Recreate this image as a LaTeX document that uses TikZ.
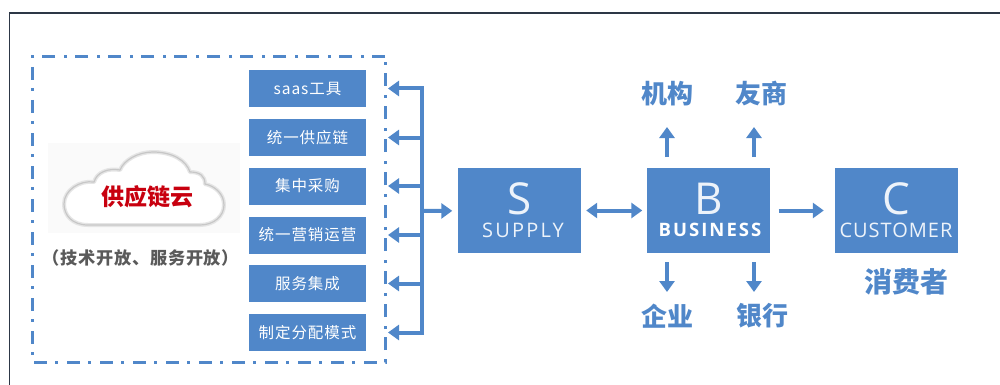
\documentclass[tikz,border=0pt]{standalone}
\usepackage{fontspec}
\setmainfont{Noto Sans CJK SC}
\newfontfamily\latinfont{Open Sans}
\usetikzlibrary{arrows.meta}
\definecolor{boxblue}{RGB}{80,135,201}
\definecolor{framedark}{RGB}{45,55,70}
\definecolor{cloudred}{RGB}{200,0,15}
\definecolor{notegray}{RGB}{90,90,90}
\tikzset{
  toolbox/.style={fill=boxblue, text=white, minimum width=117, minimum height=37, inner sep=0, font=\fontsize{15.5}{17}\selectfont\addfontfeature{LetterSpace=6}},
  rolebox/.style={fill=boxblue, minimum width=123, minimum height=85, inner sep=0},
  rolebig/.style={text=white!90!boxblue, inner sep=0, font=\latinfont\fontsize{44}{46}\selectfont},
  rolesmall/.style={text=white!90!boxblue, inner sep=0, font=\latinfont\fontsize{20}{22}\selectfont\addfontfeature{LetterSpace=5}},
  partner/.style={text=boxblue, inner sep=0, font=\fontsize{26}{28}\selectfont\bfseries},
  flow/.style={draw=boxblue, line width=4, -{Triangle[length=11,width=15]}},
  biflow/.style={draw=boxblue, line width=4, {Triangle[length=11,width=15]}-{Triangle[length=11,width=15]}}
}
\begin{document}
\begin{tikzpicture}[x=1pt,y=-1pt]
\useasboundingbox (0,0) rectangle (1000,385);
% outer frame
\draw[framedark, line width=1.5] (9.5,385) -- (9.5,13) -- (1000,13);
% dash-dot group
\draw[boxblue, line width=3, dash pattern=on 13 off 8 on 3 off 9] (385,57) -- (32,57) -- (32,362) -- (385,362) -- cycle;
% cloud
\fill[black!2] (48,143) rectangle (240,233);
\path[fill=white, draw=black!10, line width=4, line join=round] (88,225) .. controls (72,225) and (64,215) .. (64,204) .. controls (64,190) and (80,180) .. (94,182) .. controls (97,172) and (108,168) .. (120,170) .. controls (124,160) and (138,152) .. (153,152) .. controls (172,152) and (186,160) .. (190,172) .. controls (200,172) and (205,176) .. (205,184) .. controls (215,186) and (224,194) .. (224,205) .. controls (224,216) and (214,225) .. (200,225) -- cycle;
\draw[black!22, line width=1.2] (88,225) .. controls (72,225) and (64,215) .. (64,204) .. controls (64,190) and (80,180) .. (94,182) .. controls (97,172) and (108,168) .. (120,170) .. controls (124,160) and (138,152) .. (153,152) .. controls (172,152) and (186,160) .. (190,172) .. controls (200,172) and (205,176) .. (205,184) .. controls (215,186) and (224,194) .. (224,205) .. controls (224,216) and (214,225) .. (200,225) -- cycle;
\node[text=cloudred, inner sep=0, font=\fontsize{23}{25}\selectfont\bfseries] (cloudlabel) at (147,197){供应链云};
\node[text=notegray, inner sep=0, font=\fontsize{17.2}{19}\selectfont\bfseries\addfontfeature{LetterSpace=4}] (opennote) at (141,258){（技术开放、服务开放）};
% tool boxes
\node[toolbox] (tool0) at (307.5,88.5){saas工具};
\node[toolbox] (tool1) at (307.5,137.5){统一供应链};
\node[toolbox] (tool2) at (307.5,186){集中采购};
\node[toolbox] (tool3) at (307.5,235){统一营销运营};
\node[toolbox] (tool4) at (307.5,283.5){服务集成};
\node[toolbox] (tool5) at (307.5,332.5){制定分配模式};
% trunk
\coordinate (trunktop) at (422,88.5);
\coordinate (trunkbot) at (422,332.5);
\coordinate (trunkmid) at (422,211);
\draw[boxblue, line width=4] ([yshift=-2]trunktop) -- ([yshift=2]trunkbot);
\coordinate (tip0) at (388,88.5);
\coordinate (tip1) at (388,137.5);
\coordinate (tip2) at (388,186);
\coordinate (tip3) at (388,235);
\coordinate (tip4) at (388,283.5);
\coordinate (tip5) at (388,332.5);
\coordinate (join1) at (422,137.5);
\coordinate (join2) at (422,186);
\coordinate (join3) at (422,235);
\coordinate (join4) at (422,283.5);
\draw[flow] ([xshift=2]trunktop) -- (tip0);
\draw[flow] (join1) -- (tip1);
\draw[flow] (join2) -- (tip2);
\draw[flow] (join3) -- (tip3);
\draw[flow] (join4) -- (tip4);
\draw[flow] ([xshift=2]trunkbot) -- (tip5);
% S B C
\node[rolebox] (sbox) at (519.5,210.5){};
\node[rolebox] (bbox) at (708,210.5){};
\node[rolebox] (cbox) at (896.5,210.5){};
\node[rolebig] (sletter) at (519.5,199){S};
\node[rolesmall, font=\latinfont\fontsize{20}{22}\selectfont\addfontfeature{LetterSpace=11}] (sword) at (523,230){SUPPLY};
\node[rolebig] (bletter) at (709,199){B};
\node[rolesmall, text=white, font=\latinfont\fontsize{18.5}{21}\selectfont\bfseries\addfontfeature{LetterSpace=11}] (bword) at (710,230){BUSINESS};
\node[rolebig] (cletter) at (896,199){C};
\node[rolesmall] (cword) at (896,230){CUSTOMER};
\draw[flow, shorten >=5.5] (trunkmid) -- (sbox);
\draw[biflow, shorten <=5, shorten >=4] (sbox) -- (bbox);
\draw[flow, shorten <=9, shorten >=11] (bbox) -- (cbox);
% partners
\node[partner] (jigou) at (667,94){机构};
\node[partner] (youshang) at (761,94){友商};
\node[partner] (qiye) at (667,316){企业};
\node[partner] (yinhang) at (762,316){银行};
\node[partner, font=\fontsize{28}{30}\selectfont\bfseries] (xiaofei) at (906,282){消费者};
\coordinate (up0) at (667,157);
\coordinate (up1) at (754,157);
\coordinate (upt0) at (667,127);
\coordinate (upt1) at (754,127);
\coordinate (dn0) at (667,262);
\coordinate (dn1) at (754,262);
\coordinate (dnt0) at (667,292);
\coordinate (dnt1) at (754,292);
\draw[flow] (up0) -- (upt0);
\draw[flow] (up1) -- (upt1);
\draw[flow] (dn0) -- (dnt0);
\draw[flow] (dn1) -- (dnt1);
\end{tikzpicture}
\end{document}
